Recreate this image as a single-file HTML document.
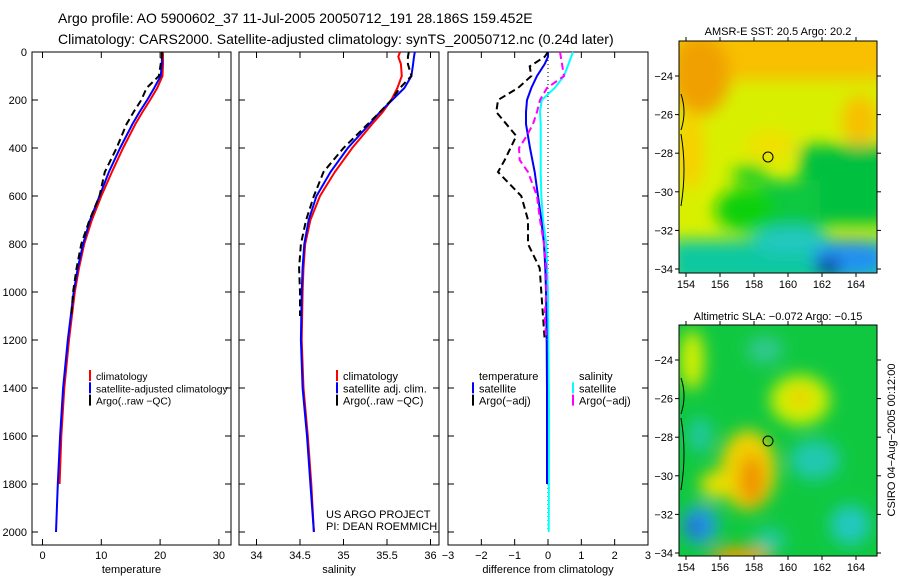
<!DOCTYPE html>
<html><head><meta charset="utf-8"><style>
body{margin:0;background:#fff;}
svg{display:block;font-family:"Liberation Sans",sans-serif;}
</style></head><body>
<svg id="c" width="900" height="580" viewBox="0 0 900 580">
<defs>
<filter id="bl" x="-20%" y="-20%" width="140%" height="140%"><feGaussianBlur stdDeviation="8"/></filter>
<clipPath id="cp1"><rect x="679" y="41" width="198" height="232"/></clipPath>
<clipPath id="cp2"><rect x="679" y="325" width="198" height="231"/></clipPath>
</defs>
<text x="58" y="23" font-size="14">Argo profile: AO 5900602_37 11-Jul-2005 20050712_191 28.186S 159.452E</text>
<text x="58" y="44" font-size="14">Climatology: CARS2000. Satellite-adjusted climatology: synTS_20050712.nc (0.24d later)</text>

<g clip-path="url(#cp1)">
<rect x="669" y="31" width="218" height="252" fill="#d8f000"/>
<g filter="url(#bl)">
<rect x="670" y="30" width="220" height="50" fill="#f8c000"/>
<ellipse cx="700" cy="75" rx="30" ry="40" fill="#f0a000"/>
<ellipse cx="860" cy="120" rx="18" ry="25" fill="#f8c000"/>
<ellipse cx="690" cy="150" rx="14" ry="40" fill="#f8d000"/>
<ellipse cx="770" cy="145" rx="25" ry="15" fill="#f0e000"/>
<rect x="800" y="145" width="90" height="80" fill="#00c040"/>
<rect x="760" y="180" width="60" height="50" fill="#10c840"/>
<ellipse cx="745" cy="210" rx="30" ry="22" fill="#10d010"/>
<ellipse cx="750" cy="175" rx="18" ry="10" fill="#20d020"/>
<rect x="670" y="240" width="220" height="45" fill="#10c8a0"/>
<ellipse cx="790" cy="240" rx="40" ry="14" fill="#20c8c0"/>
<ellipse cx="850" cy="258" rx="38" ry="18" fill="#2090f0"/>
<ellipse cx="828" cy="268" rx="12" ry="9" fill="#001890"/>
</g>
<circle cx="768" cy="157" r="5" fill="none" stroke="#000" stroke-width="1"/>
</g>
<rect x="679" y="41" width="198" height="232" fill="none" stroke="#000"/>
<text x="778" y="35" font-size="11" text-anchor="middle">AMSR-E SST: 20.5 Argo: 20.2</text>

<g clip-path="url(#cp2)">
<rect x="669" y="315" width="218" height="251" fill="#10c840"/>
<g filter="url(#bl)">
<ellipse cx="692" cy="360" rx="12" ry="30" fill="#d8f000"/>
<ellipse cx="800" cy="400" rx="30" ry="25" fill="#d0f000"/>
<ellipse cx="800" cy="398" rx="12" ry="10" fill="#f0d000"/>
<ellipse cx="748" cy="470" rx="28" ry="40" fill="#f0d000"/>
<ellipse cx="752" cy="480" rx="12" ry="25" fill="#f09000"/>
<ellipse cx="715" cy="485" rx="15" ry="14" fill="#e8e000"/>
<ellipse cx="700" cy="525" rx="18" ry="20" fill="#20a0e0"/>
<ellipse cx="695" cy="527" rx="8" ry="8" fill="#2040d0"/>
<ellipse cx="740" cy="557" rx="30" ry="10" fill="#f0a000"/>
<ellipse cx="700" cy="435" rx="12" ry="18" fill="#20c8a0"/>
<ellipse cx="815" cy="460" rx="25" ry="20" fill="#20c8b0"/>
<ellipse cx="850" cy="525" rx="20" ry="20" fill="#20c8c0"/>
<ellipse cx="770" cy="540" rx="16" ry="12" fill="#20c8a0"/>
<ellipse cx="765" cy="350" rx="18" ry="14" fill="#30c890"/>
</g>
<circle cx="768" cy="441" r="5" fill="none" stroke="#000" stroke-width="1"/>
</g>
<rect x="679" y="325" width="198" height="231" fill="none" stroke="#000"/>
<text x="778" y="320" font-size="11" text-anchor="middle">Altimetric SLA: −0.072 Argo: −0.15</text>
<text transform="translate(895,440) rotate(-90)" font-size="11" text-anchor="middle">CSIRO 04−Aug−2005 00:12:00</text>
<g id="maps-axes"></g>
<g id="plots"></g>
</svg>
<script>
const depths=[0,20,50,100,150,200,250,300,400,500,600,700,800,900,1000,1200,1400,1600,1800,2000];
const tempClim=[20.5,20.5,20.5,20.4,19.5,18.3,17,15.8,13.7,11.8,10,8.4,7.1,6.2,5.5,4.5,3.7,3.2,2.9,2.7];
const tempSat=[20.3,20.3,20.3,20.1,19,17.8,16.5,15.3,13.2,11.3,9.7,8.1,6.9,6,5.3,4.3,3.5,3.0,2.6,2.3];
const argoDepths=[0,20,50,100,150,200,250,300,400,500,600,700,800,900,1000,1100];
const tempArgo=[20.3,20.3,20.1,19.8,17.7,16.8,15.5,14.3,12.6,10.6,9.7,8.0,6.6,5.8,5.2,4.9];
const salClim=[35.65,35.63,35.66,35.67,35.62,35.55,35.45,35.33,35.1,34.9,34.73,34.62,34.56,34.54,34.53,34.52,34.54,34.59,34.63,34.66];
const salSat=[35.82,35.81,35.8,35.78,35.7,35.56,35.42,35.3,35.05,34.85,34.69,34.6,34.55,34.53,34.52,34.51,34.53,34.58,34.62,34.66];
const salArgo=[35.75,35.74,35.74,35.78,35.65,35.55,35.42,35.28,35.0,34.77,34.66,34.57,34.51,34.49,34.5,34.5];
const diffDepths=[0,20,50,100,150,200,250,300,400,500,600,700,800,900,1000,1200,1400,1600,1800];
const dTempSat=[0,0,-0.1,-0.33,-0.5,-0.63,-0.66,-0.66,-0.54,-0.4,-0.3,-0.2,-0.12,-0.08,-0.06,-0.04,-0.03,-0.03,-0.03];
const dArgoDepths=[0,20,60,100,150,200,250,350,450,500,600,700,800,900,1000,1100,1200];
const dTempArgo=[0,-0.1,-0.55,-0.5,-0.9,-1.5,-1.55,-0.95,-1.3,-1.5,-0.8,-0.6,-0.6,-0.25,-0.2,-0.15,-0.1];
const dSalDepths=[0,100,150,200,250,300,400,500,600,700,800,1000,1500,2000];
const dSalSat=[0.75,0.48,0.2,-0.19,-0.24,-0.22,-0.22,-0.22,-0.2,-0.15,-0.05,0,0.03,0.02];
const dSalArgoDepths=[0,50,100,150,200,250,300,350,400,450,500,600,700,800,900,1000,1100,1200];
const dSalArgo=[0.36,0.42,0.48,-0.03,-0.24,-0.33,-0.45,-0.64,-0.87,-0.85,-0.6,-0.33,-0.24,-0.12,-0.05,-0.05,-0.1,-0.05];
const depthTicks=[0,200,400,600,800,1000,1200,1400,1600,1800,2000];
const tempTicks=[0,10,20,30];
const salTicks=[34,34.5,35,35.5,36];
const diffTicks=[-3,-2,-1,0,1,2,3];
const lonTicks=[154,156,158,160,162,164];
const latTicks=[-24,-26,-28,-30,-32,-34];

const NS='http://www.w3.org/2000/svg';
const plots=document.getElementById('plots');
function mk(tag,attrs,parent,text){const e=document.createElementNS(NS,tag);for(const k in attrs)e.setAttribute(k,attrs[k]);if(text!==undefined)e.textContent=text;(parent||plots).appendChild(e);return e;}
const yD=d=>52+d*0.24;
const panels=[
 {x0:32,x1:231,sx:v=>42.5+v*5.88,ticks:tempTicks,title:'temperature',name:'temperature'},
 {x0:239,x1:439,sx:v=>256.5+(v-34)*87,ticks:salTicks,title:'salinity',name:'salinity'},
 {x0:448,x1:648,sx:v=>548+v*33.33,ticks:diffTicks,title:'difference from climatology',name:'difference'}
];
panels.forEach((p,i)=>{
 const g=mk('g',{});
 
 
 const fr=mk('rect',{x:p.x0,y:52,width:p.x1-p.x0,height:493,fill:'none',stroke:'#000'},g);
 
 
 depthTicks.forEach(d=>{
  mk('line',{x1:p.x0,x2:p.x0+6,y1:yD(d),y2:yD(d),stroke:'#000'},g);
  mk('line',{x1:p.x1-6,x2:p.x1,y1:yD(d),y2:yD(d),stroke:'#000'},g);
  if(i===0){const t=mk('text',{x:p.x0-5,y:yD(d)+4,'font-size':11,'text-anchor':'end'},g,String(d));
   
   }
 });
 p.ticks.forEach(v=>{
  const x=p.sx(v);
  mk('line',{x1:x,x2:x,y1:52,y2:58,stroke:'#000'},g);
  mk('line',{x1:x,x2:x,y1:539,y2:545,stroke:'#000'},g);
  const t=mk('text',{x:x,y:559,'font-size':11,'text-anchor':'middle'},g,String(v).replace('-','−'));
  
  
 });
 const at=mk('text',{x:(p.x0+p.x1)/2,y:573,'font-size':11,'text-anchor':'middle'},g,p.title);
 
 
});
function line(xs,ds,sx,color,w,dash,name){
 const pts=xs.map((v,k)=>sx(v).toFixed(1)+','+yD(ds[k]).toFixed(1)).join(' ');
 const e=mk('polyline',{points:pts,fill:'none',stroke:color,'stroke-width':w});
 if(dash)e.setAttribute('stroke-dasharray',dash);
 
 
}
const z=mk('line',{x1:548,x2:548,y1:52,y2:yD(2000),stroke:'#000','stroke-dasharray':'1,3'});


const P=panels;
line(tempClim.slice(0,19),depths.slice(0,19),P[0].sx,'#f00',2,null,'temp-climatology-line');
line(tempSat,depths,P[0].sx,'#00f',2,null,'temp-satellite-line');
line(tempArgo,argoDepths,P[0].sx,'#000',2,'7,4','temp-argo-line');
line(salClim,depths,P[1].sx,'#f00',2,null,'sal-climatology-line');
line(salSat,depths,P[1].sx,'#00f',2,null,'sal-satellite-line');
line(salArgo,argoDepths,P[1].sx,'#000',2,'7,4','sal-argo-line');
line(dSalSat,dSalDepths,P[2].sx,'#0ff',2,null,'diff-sal-satellite-line');
line(dTempSat,diffDepths,P[2].sx,'#00f',2,null,'diff-temp-satellite-line');
line(dTempArgo,dArgoDepths,P[2].sx,'#000',2,'7,4','diff-temp-argo-line');
line(dSalArgo,dSalArgoDepths,P[2].sx,'#f0f',2,'7,4','diff-sal-argo-line');

function legend(x,y,items,name,fs){
 const g=mk('g',{});
 
 
 items.forEach((it,k)=>{
  const yy=y+k*12.3;
  if(it[1])mk('line',{x1:x,x2:x,y1:yy-10,y2:yy+1,stroke:it[1],'stroke-width':2},g);
  mk('text',{x:x+6,y:yy,'font-size':fs||11},g,it[0]);
 });
}
legend(90,380,[['climatology','#f00'],['satellite-adjusted climatology','#00f'],['Argo(..raw −QC)','#000']],'temperature-legend',10.3);
legend(337,380,[['climatology','#f00'],['satellite adj. clim.','#00f'],['Argo(..raw −QC)','#000']],'salinity-legend');
legend(473,380,[['temperature',null],['satellite','#00f'],['Argo(−adj)','#000']],'diff-temperature-legend');
legend(573,380,[['salinity',null],['satellite','#0ff'],['Argo(−adj)','#f0f']],'diff-salinity-legend');
const c1=mk('text',{x:326,y:518,'font-size':11},plots,'US ARGO PROJECT');


const c2=mk('text',{x:326,y:530,'font-size':11},plots,'PI: DEAN ROEMMICH');



const ma=document.getElementById('maps-axes');
const lonX=v=>686+(v-154)*17;
[[41,273,76],[325,556,360]].forEach((m,mi)=>{
 const latY=v=>m[2]+(-24-v)*19.3;
 lonTicks.forEach(v=>{
  const x=lonX(v);
  mk('line',{x1:x,x2:x,y1:m[0],y2:m[0]-4,stroke:'#000'},ma);
  mk('line',{x1:x,x2:x,y1:m[1],y2:m[1]+4,stroke:'#000'},ma);
  const t=mk('text',{x:x,y:m[1]+15,'font-size':11,'text-anchor':'middle'},ma,String(v));
  
  
 });
 latTicks.forEach(v=>{
  const y=latY(v);
  mk('line',{x1:679,x2:675,y1:y,y2:y,stroke:'#000'},ma);
  mk('line',{x1:877,x2:881,y1:y,y2:y,stroke:'#000'},ma);
  const t=mk('text',{x:673,y:y+4,'font-size':11,'text-anchor':'end'},ma,String(v).replace('-','−'));
  
  
 });
 const cl=mk('path',{d:`M681 ${m[2]+18} q6 18 0 36 M681 ${m[2]+58} q6 35 0 72`,fill:'none',stroke:'#000'},ma);
 
 
});
</script>
</body></html>
